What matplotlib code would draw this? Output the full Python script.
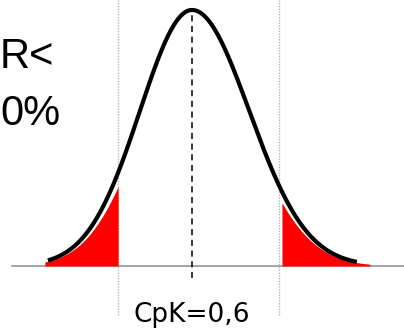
import matplotlib
matplotlib.use("Agg")
import matplotlib.pyplot as plt
import numpy as np

# process distribution (in units of the left-hand sigma)
mean = 0.0
sigma_left = 1.0
sigma_right = 1.1
lsl = -1.42
usl = 1.67
curve_range = [-2.77, 3.17]
tail_left = [-2.83, lsl]
tail_right = [1.73, 3.42]
tail_scale = 0.85
cpk_label = "CpK=0,6"
side_lines = ["R<", "0%"]


def density(z):
    s = np.where(z < mean, sigma_left, sigma_right)
    return np.exp(-0.5 * ((z - mean) / s) ** 2)


W, H = 404, 332
fig = plt.figure(figsize=(W / 100, H / 100), dpi=100)
ax = fig.add_axes([0, 0, 1, 1])
ax.set_xlim(-3.692, 4.077)
ax.set_ylim(-0.258, 1.039)
ax.axis("off")

# red tails
for lo, hi in (tail_left, tail_right):
    z = np.linspace(lo, hi, 200)
    ax.fill_between(z, 0, tail_scale * density(z), color="#ff0000", lw=0, zorder=2)

# baseline
ax.plot([-3.46, 4.077], [0, 0], color="#8c8c8c", lw=1.1, zorder=1)

# spec limits
for v in (lsl, usl):
    ax.plot([v, v], [-0.191, 1.039], color="#b4b4b4", lw=1.0, ls=(0, (1, 1)), zorder=1)

# centre line
ax.plot([mean, mean], [-0.047, 0.98], color="black", lw=1.1, ls=(0, (4, 3)), zorder=3)

# curve
z = np.linspace(curve_range[0], curve_range[1], 400)
ax.plot(z, density(z), color="black", lw=3, solid_capstyle="butt", zorder=4)

fig.text(192 / W, 1 - 322 / H, cpk_label, ha="center", va="baseline",
         fontsize=19, family=["DejaVu Sans"])
for i, s in enumerate(side_lines):
    fig.text(0, 1 - (68 + 57 * i) / H, s, ha="left", va="baseline",
             fontsize=30, family=["DejaVu Sans Condensed", "Liberation Sans Narrow", "Liberation Sans"])

fig.savefig("out.png", dpi=100)
